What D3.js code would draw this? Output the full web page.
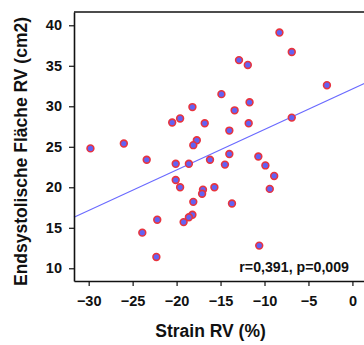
<!DOCTYPE html>
<html>
<head>
<meta charset="utf-8">
<script src="https://cdn.jsdelivr.net/npm/d3@7"></script>
<style>
  body { margin: 0; background: #fff; }
  svg text { font-family: "Liberation Sans", Arial, sans-serif; font-weight: bold; }
</style>
</head>
<body>
<div class="vis-scatter"></div>
<script>
// Strain RV (%) vs. endsystolic RV area (cm2)
const strainRV = [
  -29.8, -26.0, -23.4, -20.5, -19.6, -20.1, -8.3, -6.9, -12.9, -11.9,
  -2.9, -14.9, -18.2, -11.7, -13.4, -16.8, -11.8, -6.9, -14.0, -17.7,
  -18.1, -14.0, -10.7, -16.2, -18.6, -14.5, -9.9, -20.1, -19.6, -22.2,
  -23.9, -22.3, -8.9, -17.0, -17.1, -15.7, -18.1, -13.7, -9.4, -18.2,
  -18.6, -19.2, -10.6
];
const areaRV = [
  24.8, 25.4, 23.4, 28.0, 28.5, 22.9, 39.1, 36.7, 35.7, 35.1,
  32.6, 31.5, 29.9, 30.5, 29.5, 27.9, 27.9, 28.6, 27.0, 25.8,
  25.2, 24.1, 23.8, 23.4, 22.9, 22.8, 22.7, 20.9, 20.0, 16.0,
  14.4, 11.4, 21.4, 19.7, 19.2, 20.0, 18.2, 18.0, 19.8, 16.6,
  16.3, 15.7, 12.8
];
const xTicks = [-30, -25, -20, -15, -10, -5, 0];
const yTicks = [10, 15, 20, 25, 30, 35, 40];
const fit = { intercept: 32.15, slope: 0.5 };
const stats = "r=0,391, p=0,009";

const W = 364, H = 345;
const margin = { top: 12, left: 74, bottom: 64 };
const plotRight = 370; // plot runs past the picture edge

const svg = d3.select(".vis-scatter")
  .append("svg")
  .attr("width", W)
  .attr("height", H);

const x = d3.scaleLinear().domain([-31.67, 2]).range([margin.left, plotRight]);
const y = d3.scaleLinear().domain([8.43, 41.64]).range([H - margin.bottom, margin.top]);

const data = strainRV.map((d, i) => ({ x: d, y: areaRV[i] }));

// regression line
const x0 = x.domain()[0], x1 = x.domain()[1];
svg.append("line")
  .attr("x1", x(x0)).attr("y1", y(fit.intercept + fit.slope * x0))
  .attr("x2", x(x1)).attr("y2", y(fit.intercept + fit.slope * x1))
  .attr("stroke", "#6a6aff")
  .attr("stroke-width", 1.1);

// points
svg.selectAll(".dot")
  .data(data)
  .enter()
  .append("circle")
  .attr("class", "dot")
  .attr("cx", d => x(d.x))
  .attr("cy", d => y(d.y))
  .attr("r", 3.4)
  .attr("fill", "#6262f4")
  .attr("stroke", "#e8343e")
  .attr("stroke-width", 1.6);

// top frame line
svg.append("line")
  .attr("x1", margin.left).attr("x2", plotRight)
  .attr("y1", margin.top).attr("y2", margin.top)
  .attr("stroke", "#111")
  .attr("stroke-width", 1.6);

// axes
const xAxis = svg.append("g")
  .attr("transform", "translate(0," + (H - margin.bottom) + ")")
  .call(d3.axisBottom(x).tickValues(xTicks).tickSize(5).tickPadding(10).tickSizeOuter(0));
const yAxis = svg.append("g")
  .attr("transform", "translate(" + margin.left + ",0)")
  .call(d3.axisLeft(y).tickValues(yTicks).tickSize(5).tickPadding(7).tickSizeOuter(0));

[xAxis, yAxis].forEach(g => {
  g.select(".domain").attr("stroke", "#111").attr("stroke-width", 1.6);
  g.selectAll(".tick line").attr("stroke", "#111").attr("stroke-width", 1.2);
  g.selectAll("text")
    .attr("fill", "#111")
    .style("font-size", "14.5px")
    .style("font-family", "'Liberation Sans', Arial, sans-serif")
    .style("font-weight", "bold");
});

// titles
svg.append("text")
  .attr("x", 210.5)
  .attr("y", 337)
  .attr("text-anchor", "middle")
  .attr("fill", "#111")
  .style("font-size", "17.5px")
  .text("Strain RV (%)");

svg.append("text")
  .attr("transform", "translate(27,151.5) rotate(-90)")
  .attr("text-anchor", "middle")
  .attr("fill", "#111")
  .style("font-size", "17.5px")
  .text("Endsystolische Fläche RV (cm2)");

svg.append("text")
  .attr("x", 349)
  .attr("y", 272)
  .attr("text-anchor", "end")
  .attr("fill", "#111")
  .style("font-size", "14.2px")
  .text(stats);
</script>
</body>
</html>
